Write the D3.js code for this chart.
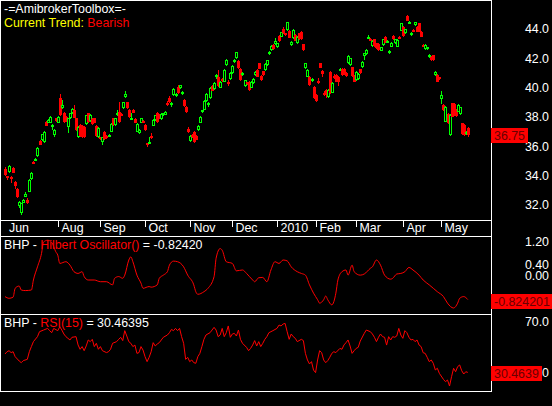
<!DOCTYPE html>
<html>
<head>
<meta charset="utf-8">
<script src="https://cdn.jsdelivr.net/npm/d3@7"></script>
<style>
    html, body { margin: 0; padding: 0; background: #000; overflow: hidden; }
    svg { display: block; }
</style>
</head>
<body>
<div id="chart"></div>
<script>
// Data (BHP daily bars, late Jun 2009 - mid May 2010)
var opens = [34.45,33.95,34.25,33.9,34.5,33.55,33.1,31.9,31.45,32.15,32.55,32.35,32.9,33.75,34.95,35.05,35.3,36.35,36.4,36.3,
    37.65,37.6,37.6,37.4,36.75,37.9,37.6,39.3,38.6,38.3,38.0,37.3,37.9,38.25,38.5,37.9,36.6,37.45,37.4,37.3,
    37.5,38.25,37.7,37.85,37.9,37.4,36.6,36.6,36.3,37.0,36.7,36.65,37.0,37.9,37.45,38.1,38.35,38.2,38.6,39.35,
    39.0,38.5,37.9,38.5,37.85,37.0,36.9,37.6,37.75,37.45,36.2,36.25,36.7,37.4,37.8,38.3,38.15,37.85,38.1,38.15,
    38.97,39.3,38.85,39.5,39.4,40.05,39.95,39.55,39.15,38.7,37.2,36.38,36.75,37.0,36.7,37.1,37.6,38.36,38.5,39.1,
    38.85,39.3,40.1,39.9,40.75,40.75,40.0,40.6,40.4,41.55,40.35,40.6,41.0,41.75,42.0,41.8,41.3,40.95,40.1,40.35,
    40.4,40.0,40.3,40.85,41.2,41.65,40.8,41.1,41.2,41.55,42.4,42.57,42.9,42.95,42.75,43.55,43.48,44.0,43.7,43.93,
    43.86,42.9,43.36,43.6,43.02,43.7,43.82,42.96,41.32,40.75,40.75,40.55,40.07,39.5,40.47,41.66,41.13,39.6,39.84,39.33,
    41.09,39.66,40.77,40.86,40.75,41.15,41.3,41.3,41.0,41.66,41.54,41.38,40.79,40.5,40.6,41.25,41.38,42.16,42.29,43.45,
    43.35,42.84,43.3,43.02,42.98,42.52,42.9,43.48,43.07,42.5,42.8,43.52,43.02,42.8,43.48,43.88,44.16,43.7,44.88,44.43,
    43.59,43.95,44.27,44.16,44.39,43.82,42.9,42.61,42.61,42.07,42.1,42.2,40.86,40.86,40.7,39.2,38.81,37.67,38.2,36.76,
    38.93,38.9,38.47,38.36,38.2,37.56,37.45,36.8,37.24];
var highs = [34.6,34.0,34.7,33.95,34.55,33.6,33.15,32.25,32.15,32.4,32.9,32.45,33.75,34.25,35.0,35.2,35.95,36.4,36.85,37.05,
    37.7,37.85,38.05,37.5,37.15,37.95,38.05,39.55,39.15,38.35,38.05,37.95,38.3,38.6,38.8,37.95,37.35,37.5,37.45,37.35,
    38.15,38.3,38.2,37.9,37.95,37.45,37.3,36.65,36.65,37.05,36.75,36.8,37.55,37.95,37.95,38.5,39.0,38.25,39.05,39.8,
    39.05,38.55,38.3,38.55,37.9,37.55,37.15,37.95,37.8,37.5,36.25,36.6,36.9,37.85,38.15,38.35,38.2,38.25,38.3,38.4,
    39.1,39.4,39.0,39.95,39.6,40.2,40.2,39.8,39.2,38.75,37.3,36.75,36.8,37.05,36.75,37.45,38.05,38.5,39.15,39.6,
    39.0,40.05,40.15,40.35,40.9,41.2,40.45,40.65,41.25,41.95,40.5,41.05,41.55,41.95,42.45,41.85,41.35,41.05,40.55,40.4,
    40.45,40.45,40.65,41.1,41.25,41.7,40.85,41.15,41.65,41.9,42.5,42.9,42.95,43.4,43.07,43.6,43.82,44.15,43.75,44.5,
    43.9,43.18,44.0,43.65,43.53,43.75,43.87,43.01,41.71,41.25,40.8,40.65,40.12,39.55,40.65,41.71,41.18,39.75,39.89,39.89,
    41.14,40.39,40.9,40.91,40.8,41.35,41.35,41.35,41.05,42.21,42.05,41.43,40.84,41.14,41.0,41.3,41.82,42.39,42.62,43.6,
    43.4,43.25,43.35,43.07,43.03,42.8,43.35,43.53,43.25,42.57,43.12,43.57,43.35,43.3,43.53,44.44,44.21,44.03,44.93,44.55,
    43.8,44.0,44.51,44.21,44.44,43.87,42.95,43.0,42.8,42.27,42.15,42.25,41.14,40.91,40.75,39.75,38.86,38.75,38.25,38.18,
    38.98,38.95,38.52,38.85,38.7,37.61,37.5,37.05,37.29];
var lows = [33.95,33.7,34.2,33.5,34.15,33.1,32.45,31.8,31.3,32.1,32.5,32.05,32.85,33.7,34.8,35.0,35.25,36.05,36.35,36.25,
    37.35,37.55,37.55,37.1,36.6,37.65,37.55,38.05,38.55,37.6,37.65,36.9,37.85,38.2,37.9,37.05,36.55,36.65,36.55,36.55,
    37.45,37.6,37.65,37.45,37.55,36.65,36.55,36.4,36.1,36.45,36.5,36.6,36.95,37.4,37.4,38.05,37.6,38.05,38.55,39.3,
    38.55,37.95,37.85,38.25,37.55,36.95,36.85,37.55,37.55,37.05,35.95,36.2,36.5,37.35,37.75,37.6,37.85,37.8,38.05,38.1,
    38.75,38.95,38.7,39.45,39.35,39.55,39.9,39.5,38.7,38.3,36.9,36.3,36.55,36.25,36.4,37.05,37.55,38.3,38.45,39.05,
    38.7,39.25,39.75,39.85,40.6,40.05,39.95,40.4,40.35,41.5,40.1,40.55,40.95,41.7,41.95,41.3,40.45,40.8,40.05,40.2,
    39.8,39.95,40.25,40.8,40.7,41.25,40.45,40.8,41.15,41.5,42.2,42.52,42.6,42.9,42.7,43.13,43.43,43.65,43.55,43.88,
    43.36,42.85,43.31,43.15,42.97,43.27,43.27,42.52,41.27,40.7,40.13,40.35,39.22,39.04,40.25,41.31,40.7,39.4,39.3,39.28,
    39.55,39.61,40.6,40.35,40.1,41.1,40.81,40.85,40.75,41.61,41.49,40.75,40.35,40.45,40.55,40.92,41.33,41.9,42.24,43.3,
    43.2,42.79,42.79,42.63,42.52,42.47,42.85,43.02,43.02,42.3,42.75,43.25,42.97,42.75,43.31,43.83,43.47,43.65,44.52,44.38,
    43.54,43.87,44.22,43.77,43.77,43.43,42.75,42.56,42.56,42.02,41.83,41.83,40.81,40.35,40.55,38.9,38.42,37.62,37.51,36.71,
    37.97,38.05,38.01,38.31,38.15,36.78,36.71,36.75,36.6];
var closes = [34.05,33.9,34.65,33.85,34.2,33.3,32.5,32.2,32.1,32.3,32.75,32.1,33.7,34.2,34.85,35.15,35.9,36.1,36.8,37.0,
    37.4,37.8,38.0,37.45,37.1,37.7,38.0,38.1,38.8,37.65,37.7,37.9,38.25,38.55,37.95,37.1,37.3,36.7,36.6,36.6,
    38.1,37.65,38.15,37.5,37.6,36.7,37.25,36.5,36.6,36.5,36.55,36.75,37.5,37.45,37.9,38.3,37.65,38.1,39.0,39.55,
    38.6,38.0,37.95,38.3,37.6,37.5,37.1,37.9,37.6,37.1,36.1,36.3,36.55,37.8,38.1,37.65,37.9,38.2,38.25,38.35,
    38.92,39.0,38.95,39.9,39.55,39.6,40.15,39.72,38.75,38.35,37.0,36.7,36.6,36.3,36.45,37.4,38.0,38.47,39.1,39.55,
    38.95,40.0,39.8,40.3,40.85,40.1,40.4,40.45,41.2,41.9,40.3,41.0,41.5,41.9,42.4,41.35,40.5,41.0,40.5,40.25,
    39.85,40.4,40.6,41.05,40.75,41.3,40.5,40.85,41.6,41.85,42.45,42.86,42.64,43.18,43.02,43.18,43.77,43.7,43.6,44.46,
    43.41,43.13,43.93,43.2,43.48,43.32,43.32,42.57,41.66,41.2,40.18,40.6,39.27,39.09,40.43,41.36,40.9,39.55,39.6,39.84,
    39.6,40.34,40.73,40.4,40.4,41.3,40.86,40.9,40.8,42.16,42.0,40.8,40.4,41.09,40.95,40.97,41.77,42.34,42.57,43.48,
    43.28,43.2,42.84,42.68,42.57,42.75,43.3,43.07,43.2,42.52,43.07,43.3,43.3,43.25,43.36,44.39,43.52,43.98,44.57,44.5,
    43.75,43.92,44.46,43.82,43.82,43.48,42.8,42.9,42.75,42.22,41.88,41.88,41.09,40.4,40.6,39.5,38.47,38.7,37.56,38.13,
    38.02,38.1,38.06,38.8,38.65,36.83,36.76,37.0,36.75];

// month labels and the bar where each month starts
var monthLabels = ["Jun", "Aug", "Sep", "Oct", "Nov", "Dec", "2010", "Feb", "Mar", "Apr", "May"];
var monthBars = [0, 26, 47, 69, 91, 112, 134, 153, 173, 196, 215];

var priceTicks = [44, 42, 40, 38, 36, 34, 32];
var hilbertTicks = [1.2, 0.4, 0.0];
var rsiTicks = [70, 30];

// Hilbert oscillator read points (bar, value)
var hilbertBars = [0,2,4,5,7,8,10,13,14,16,18,19,21,23,25,26,27,30,32,34,36,38,39,41,44,47,50,53,54,56,58,59,61,62,63,65,67,68,71,72,
    75,76,78,80,81,83,85,88,90,93,94,95,98,100,103,104,106,107,109,112,114,117,119,122,123,125,127,129,131,133,135,137,139,141,144,146,148,150,152,154,
    155,157,158,159,161,163,164,166,168,169,171,172,175,177,180,181,183,185,187,190,191,193,195,197,199,201,204,206,209,211,213,216,218,221,223,224,226,228];
var hilbertValues = [-0.72,-0.78,-0.74,-0.43,-0.35,-0.49,-0.51,-0.49,-0.14,0.32,0.79,1.19,1.25,1.18,0.85,0.73,0.44,0.50,0.38,0.15,0.09,0.15,-0.02,-0.14,-0.14,-0.20,-0.20,-0.31,-0.08,-0.02,-0.08,0.03,0.56,0.67,0.50,0.03,-0.25,-0.43,-0.37,-0.39,
    -0.31,-0.08,0.03,0.15,0.38,0.52,0.50,0.32,0.03,-0.31,-0.55,-0.64,-0.55,-0.43,-0.02,0.62,0.96,0.90,0.50,0.44,0.18,0.21,0.09,-0.14,-0.20,-0.06,-0.05,-0.20,0.21,0.50,0.44,0.56,0.53,0.32,0.15,0.09,0.03,-0.31,-0.60,-0.83,
    -0.95,-0.83,-0.70,-0.83,-1.01,-0.60,-0.14,0.15,0.21,0.03,0.38,0.15,0.03,0.07,0.27,0.32,0.56,0.38,0.03,-0.11,-0.08,0.07,0.09,0.15,0.30,0.21,0.03,-0.14,-0.31,-0.43,-0.55,-0.72,-0.95,-1.12,-0.95,-0.78,-0.72,-0.8242];

// RSI(15) read points (bar, value)
var rsiBars = [0,1,2,3,4,5,7,8,9,11,12,13,14,16,17,19,21,22,23,24,26,27,28,29,30,31,32,33,35,36,37,38,39,40,41,42,43,44,45,46,
    47,48,50,51,52,53,55,56,57,58,59,60,61,62,63,64,65,66,67,68,69,70,71,72,73,74,75,76,77,78,80,81,82,83,84,85,86,87,88,89,
    90,91,92,93,94,95,96,97,98,99,101,102,103,104,105,106,107,108,109,110,111,112,113,114,115,116,117,119,120,121,122,123,124,125,126,127,128,129,130,131,
    132,134,135,136,137,138,139,140,141,142,143,144,146,147,148,149,150,151,152,153,154,155,156,157,158,159,160,161,162,163,165,166,167,168,169,170,171,172,173,174,
    175,177,178,180,181,182,183,184,185,186,187,188,189,190,191,192,193,194,195,196,197,198,199,200,201,202,203,204,205,206,207,208,209,210,211,212,213,214,216,217,
    218,219,220,221,222,223,224,225,226,227,228];
var rsiValues = [44.9,46.7,47.5,46.0,46.7,42.8,39.4,38.1,39.7,40.7,46.7,50.7,54.6,58.5,62.4,63.7,65.0,63.2,61.6,65.0,63.2,66.3,63.7,60.6,58.5,57.2,55.9,58.0,58.5,52.0,48.6,50.7,47.5,51.2,55.9,54.6,56.4,50.7,53.3,48.6,
    50.7,47.5,46.0,46.7,48.6,53.3,54.6,56.4,58.0,55.4,63.2,59.0,54.6,53.3,50.7,51.9,45.4,46.0,50.7,48.0,42.8,38.9,42.3,46.7,53.8,51.2,52.7,53.8,55.9,58.0,59.8,61.6,64.2,63.2,65.0,63.2,65.0,58.5,53.3,40.7,
    42.3,38.9,40.2,38.1,37.6,42.8,45.4,50.7,56.4,59.8,61.6,63.7,65.8,63.7,58.5,59.8,65.0,58.5,61.6,66.9,58.0,60.6,61.1,59.0,63.7,56.4,53.3,50.1,47.5,49.3,51.9,55.4,51.2,54.6,50.7,53.3,56.4,58.5,61.6,62.4,
    63.2,65.0,67.6,66.9,68.4,68.9,62.4,56.4,60.6,58.5,57.2,54.6,56.4,55.4,45.4,40.2,37.1,38.9,32.3,30.3,40.2,47.5,46.0,40.2,38.1,39.7,42.3,45.4,46.7,46.0,49.3,48.6,52.0,53.8,55.9,51.2,45.4,47.5,49.3,50.1,
    55.0,61.1,63.7,62.4,60.6,58.0,54.6,58.0,60.6,58.5,58.0,51.9,58.5,55.9,58.5,58.0,59.0,65.0,59.8,57.2,63.2,61.6,58.0,55.9,56.4,54.6,55.9,51.9,50.7,45.9,45.4,42.3,38.9,40.2,37.6,32.4,33.7,29.7,25.0,23.2,
    24.5,19.8,27.1,33.7,31.0,35.0,36.3,31.8,29.2,31.0,30.46];

var GREEN = "#00ff00", RED = "#ff0000", WHITE = "#ffffff";
var FONT = "Arial, 'Liberation Sans', sans-serif";

// Layout
var width = 552, height = 406;
var paneRight = 491;

var svg = d3.select("#chart")
    .append("svg")
    .attr("width", width)
    .attr("height", height)
    .style("background", "#000")
    .style("font-family", FONT)
    .style("font-size", "12.4px");

var x = d3.scaleLinear().domain([0, closes.length - 1]).range([5, 467.8]);
var yPrice = d3.scaleLinear().domain([44, 32]).range([29, 204.8]);
var yHilbert = d3.scaleLinear().domain([1.2, 0]).range([241.7, 276]);
var yRsi = d3.scaleLinear().domain([70, 30]).range([322, 373]);

// clip areas per pane
var defs = svg.append("defs");
[["clipPrice", 1, 219], ["clipHilbert", 237, 77], ["clipRsi", 315, 76]].forEach(function (c) {
    defs.append("clipPath").attr("id", c[0])
        .append("rect").attr("x", 1).attr("y", c[1]).attr("width", paneRight - 1).attr("height", c[2]);
});

// Candles
var candles = svg.append("g").attr("clip-path", "url(#clipPrice)").attr("shape-rendering", "crispEdges");
var bars = candles.selectAll("g.bar")
    .data(closes.map(function (c, i) { return i; }))
    .join("g")
    .attr("class", "bar");

bars.append("line")
    .attr("x1", function (i) { return Math.round(x(i)) + 0.5; })
    .attr("x2", function (i) { return Math.round(x(i)) + 0.5; })
    .attr("y1", function (i) { return yPrice(highs[i]); })
    .attr("y2", function (i) { return yPrice(lows[i]); })
    .attr("stroke", function (i) { return closes[i] >= opens[i] ? GREEN : RED; });

bars.append("rect")
    .attr("x", function (i) {
        var cx = Math.round(x(i));
        return closes[i] >= opens[i] ? cx - 0.5 : cx - 1;
    })
    .attr("y", function (i) {
        var top = Math.round(yPrice(Math.max(opens[i], closes[i])));
        return closes[i] >= opens[i] ? top + 0.5 : top;
    })
    .attr("width", function (i) { return closes[i] >= opens[i] ? 2 : 3; })
    .attr("height", function (i) {
        var top = Math.round(yPrice(Math.max(opens[i], closes[i])));
        var bot = Math.round(yPrice(Math.min(opens[i], closes[i])));
        var h = Math.max(2, bot - top);
        return closes[i] >= opens[i] ? h - 1 : h;
    })
    .attr("fill", function (i) { return closes[i] >= opens[i] ? "#000" : RED; })
    .attr("stroke", function (i) { return closes[i] >= opens[i] ? GREEN : "none"; });

// Hilbert line
var hilbertLine = d3.line()
    .x(function (d) { return x(d[0]); })
    .y(function (d) { return yHilbert(d[1]); })
    .curve(d3.curveMonotoneX);

svg.append("path")
    .attr("clip-path", "url(#clipHilbert)")
    .attr("d", hilbertLine(d3.zip(hilbertBars, hilbertValues)))
    .attr("fill", "none")
    .attr("stroke", RED)
    .attr("stroke-width", 1);

// RSI line
var rsiLine = d3.line()
    .x(function (d) { return x(d[0]); })
    .y(function (d) { return yRsi(d[1]); });

svg.append("path")
    .attr("clip-path", "url(#clipRsi)")
    .attr("d", rsiLine(d3.zip(rsiBars, rsiValues)))
    .attr("fill", "none")
    .attr("stroke", RED)
    .attr("stroke-width", 1);

// Pane frames
var frame = svg.append("g").attr("stroke", WHITE).attr("shape-rendering", "crispEdges");
frame.append("rect")
    .attr("x", 0.5).attr("y", 0.5)
    .attr("width", paneRight).attr("height", 391)
    .attr("fill", "none");
[220.5, 236.5, 314.5].forEach(function (yy) {
    frame.append("line").attr("x1", 0).attr("x2", paneRight).attr("y1", yy).attr("y2", yy);
});

// Date axis
var dateAxis = svg.append("g");
monthBars.forEach(function (b, k) {
    var tx = Math.round(x(b)) + 0.5;
    if (b > 0) {
        dateAxis.append("line")
            .attr("x1", tx).attr("x2", tx).attr("y1", 221).attr("y2", 227)
            .attr("stroke", WHITE).attr("shape-rendering", "crispEdges");
    }
    dateAxis.append("text")
        .attr("x", b > 0 ? tx + 3 : 9)
        .attr("y", 232)
        .attr("fill", WHITE)
        .text(monthLabels[k]);
});

// Right value axes
function valueAxis(scale, ticks, fmt) {
    var g = svg.append("g")
        .attr("transform", "translate(549,0)")
        .call(d3.axisRight(scale).tickValues(ticks).tickSize(0).tickFormat(d3.format(fmt)));
    g.select(".domain").remove();
    g.selectAll("text")
        .attr("x", 0)
        .attr("text-anchor", "end")
        .attr("fill", WHITE)
        .style("font-family", FONT)
        .style("font-size", "12.4px");
}
valueAxis(yPrice, priceTicks, ".1f");
valueAxis(yHilbert, hilbertTicks, ".2f");
valueAxis(yRsi, rsiTicks, ".1f");

// Last value boxes
function valueBox(yy, w, label) {
    svg.append("rect")
        .attr("x", 491).attr("y", Math.round(yy) - 7)
        .attr("width", w).attr("height", 15)
        .attr("fill", RED);
    svg.append("text")
        .attr("x", 494).attr("y", Math.round(yy) + 5)
        .attr("fill", "#6a0000")
        .text(label);
}
valueBox(yPrice(closes[closes.length - 1]), 37, "36.75");
valueBox(yHilbert(hilbertValues[hilbertValues.length - 1]) + 1.5, 61, "-0.824201");
valueBox(yRsi(rsiValues[rsiValues.length - 1]) + 1, 51, "30.4639");

// Titles
svg.append("text").attr("x", 4).attr("y", 13).attr("fill", WHITE).text("-=AmibrokerToolbox=-");
var trend = svg.append("text").attr("x", 4).attr("y", 27);
trend.append("tspan").attr("fill", "#ffff00").text("Current Trend: ");
trend.append("tspan").attr("fill", RED).text("Bearish");

var t1 = svg.append("text").attr("x", 4).attr("y", 249);
t1.append("tspan").attr("fill", WHITE).text("BHP - ");
t1.append("tspan").attr("fill", RED).text("Hilbert Oscillator()");
t1.append("tspan").attr("fill", WHITE).text(" = -0.82420");

var t2 = svg.append("text").attr("x", 4).attr("y", 327);
t2.append("tspan").attr("fill", WHITE).text("BHP - ");
t2.append("tspan").attr("fill", RED).text("RSI(15)");
t2.append("tspan").attr("fill", WHITE).text(" = 30.46395");
</script>
</body>
</html>
